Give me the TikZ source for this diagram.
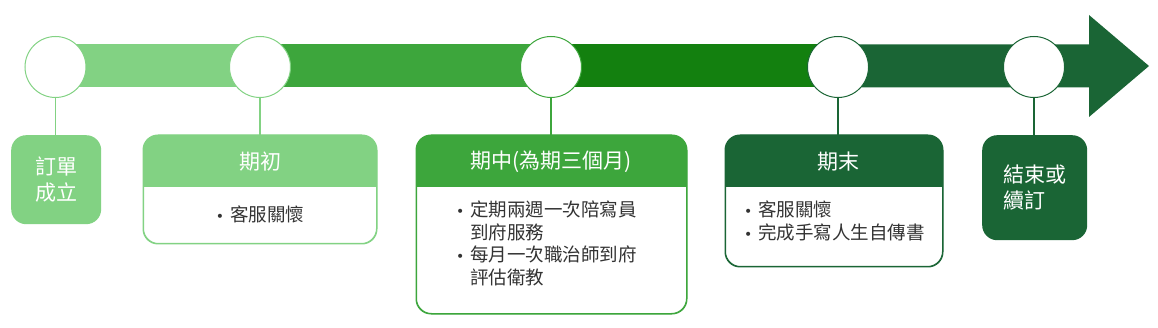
\documentclass[tikz,border=0pt]{standalone}
\usepackage{fontspec}
\newfontfamily\cjk{Noto Sans CJK TC}
\newfontfamily\dvs{DejaVu Sans}
\definecolor{gA}{HTML}{82D283}
\definecolor{gB}{HTML}{3DA63C}
\definecolor{gC}{HTML}{13800F}
\definecolor{gD}{HTML}{1A6535}
\definecolor{txt}{HTML}{333333}
\newcommand\bul{{\dvs\fontsize{14}{12}\selectfont•}}
\begin{document}
\begin{tikzpicture}[x=1pt,y=-1pt,
  dot/.style={circle, fill=white, draw=#1, line width=1pt, minimum size=61pt, inner sep=0pt},
  link/.style={draw=#1, line width=1.5pt},
  frame/.style={draw=#1, fill=white, line width=1pt, rounded corners=15pt, inner sep=0pt, anchor=north west},
  solidbox/.style={fill=#1, rounded corners=15pt, inner sep=0pt, anchor=north west},
  title/.style={font=\cjk\fontsize{21}{26}\selectfont, text=white, inner sep=0pt},
  body/.style={font=\cjk\fontsize{18.5}{22.5}\selectfont, text=txt, inner sep=0pt, anchor=north west},
  bigtxt/.style={font=\cjk\fontsize{21}{26}\selectfont, text=white, align=left, inner sep=0pt}
]
\useasboundingbox (0,0) rectangle (1158,328);

% timeline bar
\fill[gA] (55,44.3) rectangle (260,87.3);
\fill[gB] (260,44.3) rectangle (551,87.3);
\fill[gC] (551,44.3) rectangle (838,87.3);
\fill[gD] (838,44.3) -- (1089,44.3) -- (1089,15) -- (1149,66) -- (1089,117) -- (1089,87.3) -- (838,87.3) -- cycle;

% milestones
\node[dot=gA] (c1) at (55.5,67) {};
\node[dot=gA] (c2) at (260,67) {};
\node[dot=gB] (c3) at (551,67) {};
\node[dot=gD] (c4) at (838,67) {};
\node[dot=gD] (c5) at (1034,67) {};

% box 1
\node[solidbox=gA, minimum width=90pt, minimum height=89pt] (b1) at (11,135) {};
\node[bigtxt] (t1) at (b1.center) {訂單\\成立};

% box 2
\node[frame=gA, minimum width=233pt, minimum height=108pt] (b2) at (143,135) {};
\begin{scope}
  \clip[rounded corners=15pt] (b2.north west) rectangle (b2.south east);
  \fill[gA] (b2.north west) rectangle ([yshift=-52pt]b2.north east);
\end{scope}
\draw[gA, line width=1pt, rounded corners=15pt] (b2.north west) rectangle (b2.south east);
\node[title] (h2) at (260,162) {期初};
\node[body, anchor=center] (t2) at (260,214) {\bul\hspace{6pt}客服關懷};

% box 3
\node[frame=gB, minimum width=270pt, minimum height=178pt] (b3) at (416,135) {};
\begin{scope}
  \clip[rounded corners=15pt] (b3.north west) rectangle (b3.south east);
  \fill[gB] (b3.north west) rectangle ([yshift=-52pt]b3.north east);
\end{scope}
\draw[gB, line width=1pt, rounded corners=15pt] (b3.north west) rectangle (b3.south east);
\node[title] (h3) at (551,162) {期中(為期三個月)};
\node[body] (t3) at (456,201) {\begin{tabular}{@{}l@{\hspace{6pt}}l@{}}
\bul & 定期兩週一次陪寫員\\
 & 到府服務\\
\bul & 每月一次職治師到府\\
 & 評估衛教
\end{tabular}};

% box 4
\node[frame=gD, minimum width=217pt, minimum height=131pt] (b4) at (725,135) {};
\begin{scope}
  \clip[rounded corners=15pt] (b4.north west) rectangle (b4.south east);
  \fill[gD] (b4.north west) rectangle ([yshift=-52pt]b4.north east);
\end{scope}
\draw[gD, line width=1pt, rounded corners=15pt] (b4.north west) rectangle (b4.south east);
\node[title] (h4) at (838,162) {期末};
\node[body] (t4) at (744,201) {\begin{tabular}{@{}l@{\hspace{6pt}}l@{}}
\bul & 客服關懷\\
\bul & 完成手寫人生自傳書
\end{tabular}};

% box 5
\node[solidbox=gD, minimum width=105pt, minimum height=105pt] (b5) at (982,135) {};
\node[bigtxt] (t5) at (b5.center) {結束或\\續訂};

% connectors
\draw[link=gA] (c1.south) -- (b1.north -| c1.south);
\draw[link=gA] (c2.south) -- (b2.north -| c2.south);
\draw[link=gB] (c3.south) -- (b3.north -| c3.south);
\draw[link=gD] (c4.south) -- (b4.north -| c4.south);
\draw[link=gD] (c5.south) -- (b5.north -| c5.south);
\end{tikzpicture}
\end{document}
